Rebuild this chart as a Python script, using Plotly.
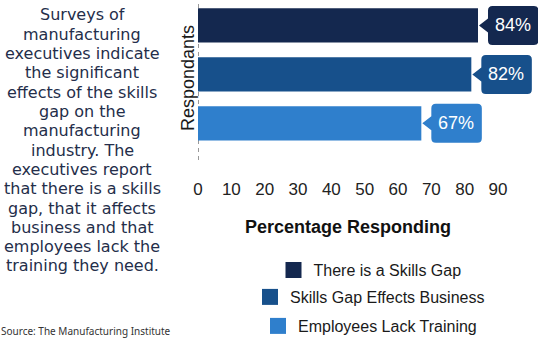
import plotly.graph_objects as go

# Survey results
categories = ["There is a Skills Gap", "Skills Gap Effects Business", "Employees Lack Training"]
values = [84, 82, 67]
colors = ["#14284f", "#17508b", "#2f7fcc"]
x_ticks = [0, 10, 20, 30, 40, 50, 60, 70, 80, 90]

blurb_lines = [
    "Surveys of",
    "manufacturing",
    "executives indicate",
    "the significant",
    "effects of the skills",
    "gap on the",
    "manufacturing",
    "industry. The",
    "executives report",
    "that there is a skills",
    "gap, that it affects",
    "business and that",
    "employees lack the",
    "training they need.",
]
source_text = "Source: The Manufacturing Institute"

W, H = 540, 339
ML, MR, MT, MB = 198, 2, 1, 179
PLOT_W = W - ML - MR
PLOT_H = H - MT - MB
X_MAX = 102  # room on the right for the value callouts


def py(pixel_y):
    """Convert a pixel row of the page into paper y."""
    return (H - MB - pixel_y) / PLOT_H


def px(pixel_x):
    """Convert a pixel column of the page into paper x."""
    return (pixel_x - ML) / PLOT_W


fig = go.Figure()

legend_names = ["legend", "legend2", "legend3"]
callout = ("M 1,0 L 10,7 L 10,15 Q 10,19.5 14.5,19.5 L 56,19.5 "
           "Q 60.5,19.5 60.5,15 L 60.5,-15 Q 60.5,-19.5 56,-19.5 "
           "L 14.5,-19.5 Q 10,-19.5 10,-15 L 10,-7 Z")

for i, (cat, val, col) in enumerate(zip(categories, values, colors)):
    fig.add_trace(go.Bar(
        x=[val], y=[i], orientation="h", width=0.7,
        marker=dict(color=col, line=dict(width=0)),
        showlegend=False, hoverinfo="skip",
    ))
    # legend swatch
    fig.add_trace(go.Scatter(
        x=[None], y=[None], mode="markers", name=cat,
        marker=dict(symbol="square", size=16, color=col),
        legend=legend_names[i], showlegend=True,
    ))

    # value callout: rounded box with a pointer touching the bar end
    fig.add_shape(
        type="path", path=callout,
        xref="x", yref="y", xsizemode="pixel", ysizemode="pixel",
        xanchor=val, yanchor=i,
        fillcolor=col, line=dict(width=0), layer="above",
    )
    fig.add_annotation(
        x=val, y=i, xref="x", yref="y", xshift=35,
        text=f"{val}%", showarrow=False, xanchor="center", yanchor="middle",
        font=dict(family="Liberation Sans, Arial", size=18, color="white"),
    )

# dashed baseline at zero
fig.add_shape(type="line", xref="x", yref="paper", x0=0, x1=0, y0=0, y1=1,
              line=dict(color="#555555", width=1.2, dash="4px,4px"), layer="below")

# axis titles
fig.add_annotation(
    xref="paper", yref="paper", x=px(188), y=py(78),
    xanchor="center", yanchor="middle",
    text="Respondants", textangle=-90, showarrow=False,
    font=dict(family="Liberation Sans, Arial", size=18, color="#1a1a1a"),
)
fig.add_annotation(
    xref="paper", yref="paper", x=px(348), y=py(227),
    xanchor="center", yanchor="middle",
    text="<b>Percentage Responding</b>", showarrow=False,
    font=dict(family="Liberation Sans, Arial", size=18, color="#111111"),
)

# explanatory text block on the left
line_top, line_step = 15, 19.3
for k, line in enumerate(blurb_lines):
    fig.add_annotation(
        xref="paper", yref="paper", x=px(82), y=py(line_top + k * line_step),
        text=line, showarrow=False, xanchor="center", yanchor="middle",
        font=dict(family="DejaVu Sans", size=16, color="#242e4a"),
    )
fig.add_annotation(
    xref="paper", yref="paper", x=px(86), y=py(331),
    text=source_text, showarrow=False, xanchor="center", yanchor="middle",
    font=dict(family="Noto Sans", size=10, color="#333333"),
)

legend_rows = [270, 297, 326]
legend_layout = {}
for name, row in zip(legend_names, legend_rows):
    legend_layout[name] = dict(
        x=px(370), y=py(row), xanchor="center", yanchor="middle",
        bgcolor="rgba(0,0,0,0)", borderwidth=0,
        font=dict(family="Liberation Sans, Arial", size=16, color="#1a1a1a"),
    )

fig.update_layout(
    width=W, height=H,
    margin=dict(l=ML, r=MR, t=MT, b=MB, pad=0, autoexpand=False),
    paper_bgcolor="white", plot_bgcolor="white",
    xaxis=dict(
        range=[0, X_MAX], tickvals=x_ticks, showgrid=False, zeroline=False,
        showline=False, ticks="outside", ticklen=14, tickcolor="rgba(0,0,0,0)",
        tickfont=dict(family="Liberation Sans, Arial", size=17, color="#222222"),
        fixedrange=True,
    ),
    yaxis=dict(
        range=[2.75, -0.5], showticklabels=False, showgrid=False,
        zeroline=False, showline=False, fixedrange=True,
    ),
    **legend_layout,
)

fig.write_html("out.html", config={"displayModeBar": False})
